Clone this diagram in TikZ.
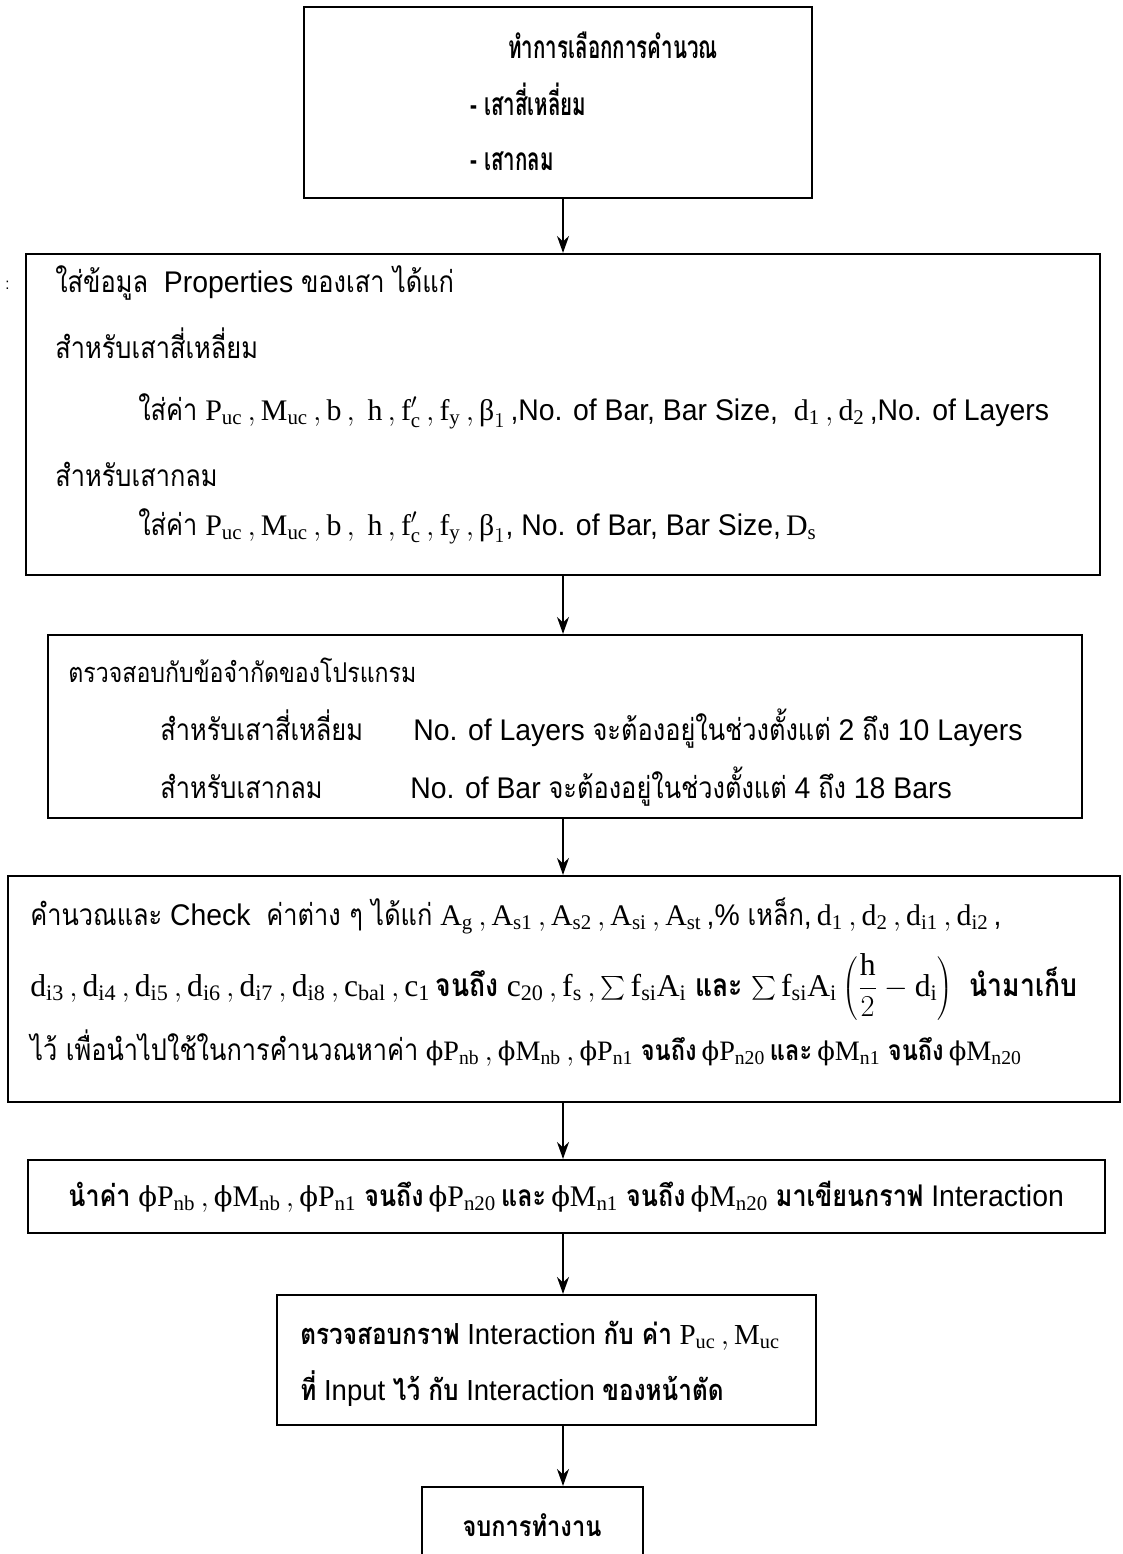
\documentclass[tikz,border=0pt]{standalone}
\usepackage{fontspec}
\setmainfont{Liberation Sans}[FakeStretch=0.95]
\newfontfamily\thaiN[Script=Thai,FakeStretch=0.85]{Loma}
\newfontfamily\thaiB[Script=Thai,FakeStretch=0.84]{Loma}
\newfontfamily\thaiT[Script=Thai,FakeStretch=0.65]{Loma}
\newfontfamily\grk{DejaVu Serif}[Scale=0.92]
\newfontfamily\tms{Liberation Serif}
\setmathrm{Liberation Serif}[Scale=1.0]
\usetikzlibrary{arrows.meta,fit}
\newcommand\T[1]{{\thaiN #1}}
\newcommand\TB[1]{{\thaiB\bfseries #1}}
\newcommand\TT[1]{{\thaiT\bfseries #1}}
\newcommand\ph{\mbox{\grk ϕ}}
\newcommand\bt{\mbox{\tms β}}
\newcommand\bsum{\mathop{\vcenter{\hbox{\scalebox{1.35}{$\sum$}}}}}
\begin{document}
\begin{tikzpicture}[x=0.02cm,y=-0.02cm,
  box/.style={draw, line width=1.2pt, inner sep=0pt},
  arr/.style={-{Stealth[length=3.4mm,width=2.4mm]}, line width=1.1pt},
  txt/.style={anchor=base west, inner sep=0pt, font=\fontsize{17}{19}\selectfont},
  stxt/.style={anchor=base west, inner sep=0pt, font=\fontsize{16}{18}\selectfont},
  ctxt/.style={anchor=base, inner sep=0pt, font=\fontsize{16}{18}\selectfont}]
\clip (0,0) rectangle (1122,1554);
\fill[white] (0,0) rectangle (1122,1554);
\coordinate (ax) at (563,0);
% boxes
\node[box, fit={(304,7) (812,198)}] (b1) {};
\node[box, fit={(26,254) (1100,575)}] (b2) {};
\node[box, fit={(48,635) (1082,818)}] (b3) {};
\node[box, fit={(8,876) (1120,1102)}] (b4) {};
\node[box, fit={(28,1160) (1105,1233)}] (b5) {};
\node[box, fit={(277,1295) (816,1425)}] (b6) {};
\node[box, fit={(422,1487) (643,1600)}] (b7) {};
% arrows
\draw[arr] (b1.south -| ax) -- (b2.north -| ax);
\draw[arr] (b2.south -| ax) -- (b3.north -| ax);
\draw[arr] (b3.south -| ax) -- (b4.north -| ax);
\draw[arr] (b4.south -| ax) -- (b5.north -| ax);
\draw[arr] (b5.south -| ax) -- (b6.north -| ax);
\draw[arr] (b6.south -| ax) -- (b7.north -| ax);
% box 1
\node[txt, font=\fontsize{18}{20}\selectfont] (t11) at (508,59) {\TT{ทำการเลือกการคำนวณ}};
\node[txt, font=\fontsize{18}{20}\selectfont] (t12) at (470,116) {\TT{- เสาสี่เหลี่ยม}};
\node[txt, font=\fontsize{18}{20}\selectfont] (t13) at (470,171) {\TT{- เสากลม}};
% stray mark
\node[txt, font=\fontsize{9}{10}\selectfont] (mk) at (5,290) {:};
% box 2
\node[txt] (t21) at (55,293) {\T{ใส่ข้อมูล}\ \ Properties \T{ของเสา ได้แก่}};
\node[txt] (t22) at (55,358) {\T{สำหรับเสาสี่เหลี่ยม}};
\node[txt] (t23) at (138,420) {\T{ใส่ค่า} $\mathrm{P_{uc}\,, M_{uc}\,, b\,,\ h\,, f'_c\,, f_y}\,, \bt_1$\,,No. of Bar, Bar Size, \ $\mathrm{d_1\,, d_2}$\,,No. of Layers};
\node[txt] (t24) at (55,486) {\T{สำหรับเสากลม}};
\node[txt] (t25) at (138,535) {\T{ใส่ค่า} $\mathrm{P_{uc}\,, M_{uc}\,, b\,,\ h\,, f'_c\,, f_y}\,, \bt_1$, No. of Bar, Bar Size,$\,\mathrm{D_s}$};
% box 3
\node[txt, font=\fontsize{15.5}{18}\selectfont] (t31) at (68,682) {\T{ตรวจสอบกับข้อจำกัดของโปรแกรม}};
\node[txt] (t32) at (160,740) {\T{สำหรับเสาสี่เหลี่ยม}};
\node[txt] (t33) at (413,740) {No. of Layers \T{จะต้องอยู่ในช่วงตั้งแต่} 2 \T{ถึง} 10 Layers};
\node[txt] (t34) at (160,798) {\T{สำหรับเสากลม}};
\node[txt] (t35) at (410,798) {No. of Bar \T{จะต้องอยู่ในช่วงตั้งแต่} 4 \T{ถึง} 18 Bars};
% box 4
\node[txt] (t41) at (30,925) {\T{คำนวณและ} Check\ \ \T{ค่าต่าง ๆ ได้แก่} $\mathrm{A_g\,, A_{s1}\,, A_{s2}\,, A_{si}\,, A_{st}}$\,,\% \T{เหล็ก},$\,\mathrm{d_1\,, d_2\,, d_{i1}\,, d_{i2}}$\,,};
\node[txt, font=\fontsize{18}{20}\selectfont] (t42) at (30,996) {$\mathrm{d_{i3}\,, d_{i4}\,, d_{i5}\,, d_{i6}\,, d_{i7}\,, d_{i8}\,, c_{bal}\,, c_1}$\,\TB{จนถึง} $\mathrm{c_{20}\,, f_s}\,, \bsum\mathrm{f_{si}A_i}$ \TB{และ} $\bsum\mathrm{f_{si}A_i}\left({\displaystyle\frac{\mathrm h}{2}}-\mathrm{d_i}\right)$ \ \TB{นำมาเก็บ}};
\node[stxt] (t43) at (30,1060) {{\fontsize{17}{19}\selectfont\T{ไว้ เพื่อนำไปใช้ในการคำนวณหาค่า}} $\ph\mathrm{P_{nb}}\,, \ph\mathrm{M_{nb}}\,, \ph\mathrm{P_{n1}}$ \TB{จนถึง}$\,\ph\mathrm{P_{n20}}$\,\TB{และ}$\,\ph\mathrm{M_{n1}}$ \TB{จนถึง}$\,\ph\mathrm{M_{n20}}$};
% box 5
\node[txt] (t51) at (68,1206) {\TB{นำค่า} $\ph\mathrm{P_{nb}}\,, \ph\mathrm{M_{nb}}\,, \ph\mathrm{P_{n1}}$ \TB{จนถึง}$\,\ph\mathrm{P_{n20}}$\,\TB{และ}$\,\ph\mathrm{M_{n1}}$ \TB{จนถึง}$\,\ph\mathrm{M_{n20}}$ \TB{มาเขียนกราฟ} Interaction};
% box 6
\node[stxt, font=\fontsize{16.5}{18}\selectfont] (t61) at (300,1344) {\TB{ตรวจสอบกราฟ} Interaction \TB{กับ ค่า} $\mathrm{P_{uc}\,, M_{uc}}$};
\node[stxt, font=\fontsize{16.5}{18}\selectfont] (t62) at (300,1400) {\TB{ที่} Input \TB{ไว้ กับ} Interaction \TB{ของหน้าตัด}};
% box 7
\node[ctxt] (t71) at (532,1536) {\TB{จบการทำงาน}};
\end{tikzpicture}
\end{document}
